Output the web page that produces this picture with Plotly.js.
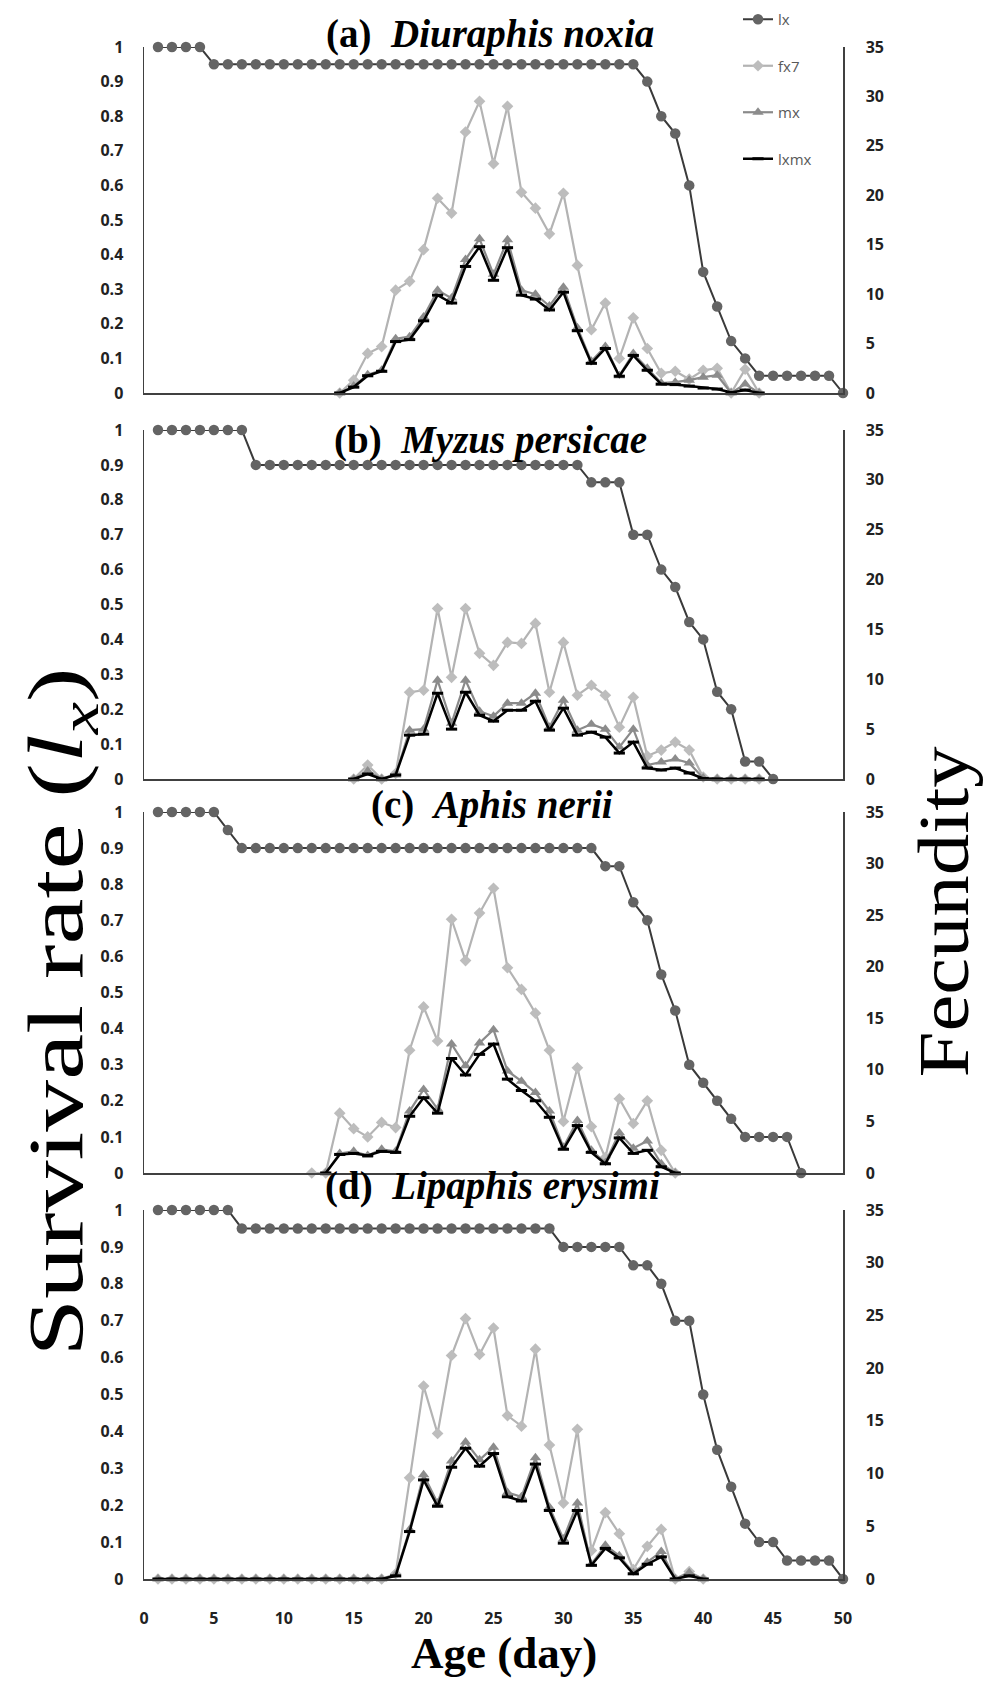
<!DOCTYPE html>
<html><head><meta charset="utf-8">
<script src="https://cdn.plot.ly/plotly-3.0.1.min.js"></script>
<style>html,body{margin:0;padding:0;background:#fff}#chart{width:992px;height:1682px}</style>
</head><body><div id="chart"></div>
<script>
// ---------- DATA ----------
const xTicks = [0, 5, 10, 15, 20, 25, 30, 35, 40, 45, 50];
const seriesNames = ["lx", "fx7", "mx", "lxmx"];
const panelTitles = ["(a)\u00A0 <i>Diuraphis noxia</i>", "(b)\u00A0 <i>Myzus persicae</i>",
                     "(c)\u00A0 <i>Aphis nerii</i>", "(d)\u00A0 <i>Lipaphis erysimi</i>"];

// Panel (a) Diuraphis noxia
const daysA_lx = [1,2,3,4,5,6,7,8,9,10,11,12,13,14,15,16,17,18,19,20,21,22,23,24,25,26,27,28,29,30,31,32,33,34,35,36,37,38,39,40,41,42,43,44,45,46,47,48,49,50];
const lxA = [1,1,1,1,0.95,0.95,0.95,0.95,0.95,0.95,0.95,0.95,0.95,0.95,0.95,0.95,0.95,0.95,0.95,0.95,0.95,0.95,0.95,0.95,0.95,0.95,0.95,0.95,0.95,0.95,0.95,0.95,0.95,0.95,0.95,0.9,0.8,0.75,0.6,0.35,0.25,0.15,0.1,0.05,0.05,0.05,0.05,0.05,0.05,0];
const daysA_f = [14,15,16,17,18,19,20,21,22,23,24,25,26,27,28,29,30,31,32,33,34,35,36,37,38,39,40,41,42,43,44];
const fx7A = [0,1.3,4.0,4.7,10.4,11.3,14.5,19.7,18.2,26.4,29.5,23.2,29.0,20.3,18.7,16.1,20.2,12.9,6.4,9.1,3.5,7.6,4.5,2.0,2.2,1.4,2.3,2.5,0,2.4,0];
const mxA = [0,0.7,1.85,2.3,5.5,5.7,7.7,10.4,9.6,13.5,15.6,12.0,15.5,10.4,10.0,8.8,10.7,6.6,3.2,4.7,1.75,4.0,2.5,1.0,1.1,1.3,1.6,1.8,0,0.9,0];
const lxmxA = [0,0.6,1.75,2.2,5.2,5.4,7.3,9.9,9.1,12.8,14.8,11.4,14.7,9.9,9.5,8.4,10.2,6.3,3.0,4.5,1.7,3.8,2.3,0.9,0.85,0.7,0.5,0.4,0.05,0.3,0];

// Panel (b) Myzus persicae
const daysB_lx = [1,2,3,4,5,6,7,8,9,10,11,12,13,14,15,16,17,18,19,20,21,22,23,24,25,26,27,28,29,30,31,32,33,34,35,36,37,38,39,40,41,42,43,44,45];
const lxB = [1,1,1,1,1,1,1,0.9,0.9,0.9,0.9,0.9,0.9,0.9,0.9,0.9,0.9,0.9,0.9,0.9,0.9,0.9,0.9,0.9,0.9,0.9,0.9,0.9,0.9,0.9,0.9,0.85,0.85,0.85,0.7,0.7,0.6,0.55,0.45,0.4,0.25,0.2,0.05,0.05,0];
const daysB_f = [15,16,17,18,19,20,21,22,23,24,25,26,27,28,29,30,31,32,33,34,35,36,37,38,39,40,41,42,43,44];
const fx7B = [0,1.4,0,0.55,8.7,8.9,17.1,10.2,17.1,12.6,11.4,13.7,13.6,15.6,8.7,13.7,8.4,9.4,8.4,5.2,8.2,2.3,2.9,3.7,2.9,0.2,0,0,0,0];
const mxB = [0,0.8,0,0.4,4.9,5.0,9.9,5.6,9.9,6.8,6.3,7.6,7.6,8.6,5.2,7.9,4.9,5.5,5.0,3.2,5.0,1.4,1.7,2.0,1.6,0.1,0,0,0,0];
const lxmxB = [0,0.5,0,0.4,4.4,4.5,8.6,5.0,8.7,6.4,5.8,6.9,6.9,7.8,4.9,7.1,4.4,4.7,4.2,2.6,3.7,1.1,0.9,1.1,0.6,0.05,0,0,0,0];

// Panel (c) Aphis nerii
const daysC_lx = [1,2,3,4,5,6,7,8,9,10,11,12,13,14,15,16,17,18,19,20,21,22,23,24,25,26,27,28,29,30,31,32,33,34,35,36,37,38,39,40,41,42,43,44,45,46,47];
const lxC = [1,1,1,1,1,0.95,0.9,0.9,0.9,0.9,0.9,0.9,0.9,0.9,0.9,0.9,0.9,0.9,0.9,0.9,0.9,0.9,0.9,0.9,0.9,0.9,0.9,0.9,0.9,0.9,0.9,0.9,0.85,0.85,0.75,0.7,0.55,0.45,0.3,0.25,0.2,0.15,0.1,0.1,0.1,0.1,0];
const daysC_f = [12,13,14,15,16,17,18,19,20,21,22,23,24,25,26,27,28,29,30,31,32,33,34,35,36,37,38];
const fx7C = [0,0,5.8,4.3,3.5,4.9,4.4,11.9,16.1,12.8,24.6,20.6,25.2,27.6,19.9,17.8,15.5,11.9,5.0,10.2,4.5,1.5,7.2,4.8,7.0,2.2,0];
const daysC_m = [13,14,15,16,17,18,19,20,21,22,23,24,25,26,27,28,29,30,31,32,33,34,35,36,37,38];
const mxC = [0,1.9,2.1,1.7,2.3,2.1,6.0,8.1,6.2,12.5,10.4,12.6,13.9,9.9,8.9,7.8,6.0,2.5,5.1,2.2,1.0,3.9,2.4,3.1,0.9,0];
const lxmxC = [0,1.8,1.9,1.7,2.1,2.0,5.5,7.3,5.8,11.1,9.5,11.5,12.5,9.1,8.0,7.0,5.4,2.3,4.6,2.0,0.9,3.4,1.9,2.2,0.6,0];

// Panel (d) Lipaphis erysimi
const daysD_lx = [1,2,3,4,5,6,7,8,9,10,11,12,13,14,15,16,17,18,19,20,21,22,23,24,25,26,27,28,29,30,31,32,33,34,35,36,37,38,39,40,41,42,43,44,45,46,47,48,49,50];
const lxD = [1,1,1,1,1,1,0.95,0.95,0.95,0.95,0.95,0.95,0.95,0.95,0.95,0.95,0.95,0.95,0.95,0.95,0.95,0.95,0.95,0.95,0.95,0.95,0.95,0.95,0.95,0.9,0.9,0.9,0.9,0.9,0.85,0.85,0.8,0.7,0.7,0.5,0.35,0.25,0.15,0.1,0.1,0.05,0.05,0.05,0.05,0];
const daysD_f = [1,2,3,4,5,6,7,8,9,10,11,12,13,14,15,16,17,18,19,20,21,22,23,24,25,26,27,28,29,30,31,32,33,34,35,36,37,38,39,40];
const fx7D = [0,0,0,0,0,0,0,0,0,0,0,0,0,0,0,0,0,0.5,9.6,18.3,13.8,21.2,24.7,21.3,23.8,15.5,14.5,21.8,12.7,7.2,14.2,2.7,6.3,4.3,0.9,3.1,4.7,0,0.7,0];
const mxD = [0,0,0,0,0,0,0,0,0,0,0,0,0,0,0,0,0,0.4,4.7,9.9,7.2,11.2,13.0,11.3,12.5,8.2,7.8,11.5,6.8,3.8,7.2,1.4,3.2,2.2,0.6,1.6,2.6,0,0.6,0];
const lxmxD = [0,0,0,0,0,0,0,0,0,0,0,0,0,0,0,0,0,0.3,4.5,9.4,6.9,10.6,12.4,10.7,11.9,7.8,7.4,10.9,6.5,3.4,6.5,1.3,2.9,2.0,0.5,1.4,2.1,0,0.3,0];

// ---------- PANELS ----------
const panels = [
  {lxDays: daysA_lx, lx: lxA, fDays: daysA_f, fx7: fx7A, mDays: daysA_f, mx: mxA, lxmx: lxmxA},
  {lxDays: daysB_lx, lx: lxB, fDays: daysB_f, fx7: fx7B, mDays: daysB_f, mx: mxB, lxmx: lxmxB},
  {lxDays: daysC_lx, lx: lxC, fDays: daysC_f, fx7: fx7C, mDays: daysC_m, mx: mxC, lxmx: lxmxC},
  {lxDays: daysD_lx, lx: lxD, fDays: daysD_f, fx7: fx7D, mDays: daysD_f, mx: mxD, lxmx: lxmxD}
];

// ---------- STYLE / LAYOUT ----------
const W = 992, H = 1682;
const X0 = 144, X1 = 843;                // pixel x of day 0 / day 50
const panelPix = [[47, 393], [430, 779], [812, 1173], [1210, 1579]]; // [top(y=1), bottom(y=0)]
const titlePix = [[490, 34], [490, 440], [492, 805], [492, 1186]];
const AX = "#404040";
const tickFont = {family: "Open Sans, sans-serif", size: 16, color: "#222", weight: 700};
const py = p => 1 - p / H;
const px = p => p / W;

const traces = [];
const layout = {
  width: W, height: H,
  margin: {l: 0, r: 0, t: 0, b: 0},
  paper_bgcolor: "#fff", plot_bgcolor: "rgba(0,0,0,0)",
  showlegend: true,
  legend: {x: px(738), y: py(3), xanchor: "left", yanchor: "top",
           font: {family: "Open Sans, sans-serif", size: 15, color: "#595959"},
           tracegroupgap: 24, bgcolor: "rgba(0,0,0,0)"},
  annotations: [], hovermode: false
};

panels.forEach((p, i) => {
  const xn = i === 0 ? "" : String(i + 1);
  const yl = String(2 * i + 1), yr = String(2 * i + 2);
  const xa = "x" + xn, ya = "y" + (yl === "1" ? "" : yl), yb = "y" + yr;
  const dom = [py(panelPix[i][1]), py(panelPix[i][0])];
  const leg = i === 0;
  layout["xaxis" + xn] = {
    domain: [px(X0), px(X1)], range: [0, 50], anchor: ya,
    showline: true, linecolor: AX, linewidth: 1.5, showgrid: false, zeroline: false,
    ticks: "", showticklabels: i === 3, tickvals: xTicks, ticktext: xTicks.map(String),
    tickfont: tickFont, ticklabelstandoff: 24, fixedrange: true
  };
  layout["yaxis" + (yl === "1" ? "" : yl)] = {
    domain: dom, range: [0, 1], anchor: xa, tick0: 0, dtick: 0.1,
    showline: true, linecolor: AX, linewidth: 1.5, showgrid: false, zeroline: false,
    ticks: "", tickfont: tickFont, ticklabelstandoff: 16, fixedrange: true
  };
  layout["yaxis" + yr] = {
    overlaying: ya, side: "right", anchor: xa, range: [0, 35], tick0: 0, dtick: 5,
    showline: true, linecolor: AX, linewidth: 1.5, showgrid: false, zeroline: false,
    ticks: "", tickfont: tickFont, ticklabelstandoff: 18, fixedrange: true
  };
  traces.push({
    type: "scatter", mode: "lines+markers", name: seriesNames[0], x: p.lxDays, y: p.lx,
    xaxis: xa, yaxis: ya, cliponaxis: false, showlegend: leg, legendgroup: "g1",
    line: {color: "#3a3a3a", width: 2},
    marker: {symbol: "circle", size: 10.5, color: "#646464", line: {width: 0}}
  });
  traces.push({
    type: "scatter", mode: "lines+markers", name: seriesNames[1], x: p.fDays, y: p.fx7,
    xaxis: xa, yaxis: yb, cliponaxis: false, showlegend: leg, legendgroup: "g2",
    line: {color: "#b3b3b3", width: 2.2},
    marker: {symbol: "diamond", size: 9, color: "#bdbdbd", line: {width: 0}}
  });
  traces.push({
    type: "scatter", mode: "lines+markers", name: seriesNames[2], x: p.mDays, y: p.mx,
    xaxis: xa, yaxis: yb, cliponaxis: false, showlegend: leg, legendgroup: "g3",
    line: {color: "#8a8a8a", width: 2.2},
    marker: {symbol: "triangle-up", size: 10, color: "#8c8c8c", line: {width: 0}}
  });
  traces.push({
    type: "scatter", mode: "lines+markers", name: seriesNames[3], x: p.mDays, y: p.lxmx,
    xaxis: xa, yaxis: yb, cliponaxis: false, showlegend: leg, legendgroup: "g4",
    line: {color: "#000", width: 2.5},
    marker: {symbol: "line-ew", size: 8, color: "#000", line: {width: 3, color: "#000"}}
  });
  layout.annotations.push({
    xref: "paper", yref: "paper", x: px(titlePix[i][0]), y: py(titlePix[i][1]),
    xanchor: "center", yanchor: "middle", showarrow: false,
    text: "<b>" + panelTitles[i] + "</b>",
    font: {family: "Liberation Serif, Times New Roman, serif", size: 39, color: "#000"}
  });
});

layout.annotations.push({
  xref: "paper", yref: "paper", x: px(61), y: py(1012), xanchor: "center", yanchor: "middle",
  showarrow: false, textangle: -90, text: "Survival rate (<i>l<sub>x</sub></i>)",
  font: {family: "Liberation Serif, Times New Roman, serif", size: 78, color: "#000"}
});
layout.annotations.push({
  xref: "paper", yref: "paper", x: px(944), y: py(912), xanchor: "center", yanchor: "middle",
  showarrow: false, textangle: -90, text: "Fecundity",
  font: {family: "Liberation Serif, Times New Roman, serif", size: 72, color: "#000"}
});
layout.annotations.push({
  xref: "paper", yref: "paper", x: px(504), y: py(1653), xanchor: "center", yanchor: "middle",
  showarrow: false, text: "<b>Age (day)</b>",
  font: {family: "Liberation Serif, Times New Roman, serif", size: 45, color: "#000"}
});

Plotly.newPlot("chart", traces, layout, {staticPlot: true, displayModeBar: false}).then(gd => {
  // the source figure's rotated axis titles are drawn slightly elongated along their length
  const anns = gd.querySelectorAll(".annotation");
  const stretch = {4: 1.33, 5: 1.15};
  Object.keys(stretch).forEach(k => {
    const g = anns[k];
    if (!g) return;
    g.style.transformBox = "fill-box";
    g.style.transformOrigin = "center";
    g.style.transform = "scale(1," + stretch[k] + ")";
  });
});
</script>
</body></html>
